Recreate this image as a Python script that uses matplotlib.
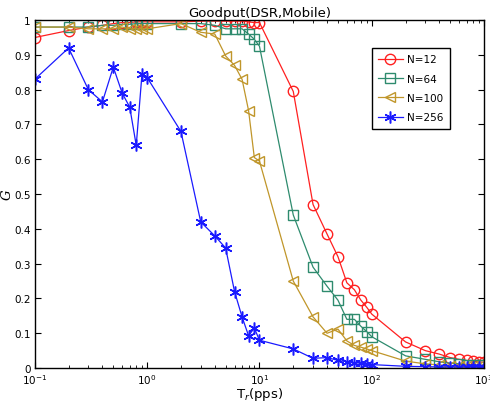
import numpy as np
import matplotlib.pyplot as plt

# taux d'envoi Tr (pps)
tr = [0.1, 0.2, 0.3, 0.4, 0.5, 0.6, 0.7, 0.8, 0.9, 1,
      2, 3, 4, 5, 6, 7, 8, 9, 10,
      20, 30, 40, 50, 60, 70, 80, 90, 100,
      200, 300, 400, 500, 600, 700, 800, 900, 1000]

g_n12 = [0.95, 0.97, 0.98, 0.985, 0.99, 0.993, 0.993, 0.995, 0.995, 0.995,
         0.995, 0.997, 0.997, 0.997, 0.997, 0.997, 0.995, 0.993, 0.993,
         0.795, 0.47, 0.385, 0.32, 0.245, 0.225, 0.195, 0.175, 0.155,
         0.075, 0.05, 0.04, 0.03, 0.025, 0.022, 0.02, 0.018, 0.016]

g_n64 = [0.98, 0.98, 0.98, 0.985, 0.985, 0.988, 0.988, 0.99, 0.99, 0.99,
         0.99, 0.99, 0.985, 0.975, 0.975, 0.975, 0.96, 0.945, 0.925,
         0.44, 0.29, 0.235, 0.195, 0.14, 0.14, 0.12, 0.105, 0.09,
         0.035, 0.025, 0.018, 0.014, 0.012, 0.01, 0.009, 0.008, 0.008]

g_n100 = [0.98, 0.98, 0.975, 0.975, 0.975, 0.98, 0.975, 0.975, 0.975, 0.975,
          0.99, 0.965, 0.96, 0.897, 0.87, 0.83, 0.74, 0.605, 0.595,
          0.25, 0.147, 0.1, 0.112, 0.078, 0.065, 0.06, 0.055, 0.05,
          0.02, 0.012, 0.009, 0.007, 0.006, 0.006, 0.005, 0.005, 0.005]

g_n256 = [0.83, 0.92, 0.80, 0.765, 0.865, 0.79, 0.75, 0.64, 0.845, 0.835,
          0.68, 0.42, 0.38, 0.345, 0.22, 0.147, 0.093, 0.115, 0.08,
          0.055, 0.028, 0.03, 0.022, 0.018, 0.015, 0.014, 0.013, 0.01,
          0.005, 0.004, 0.003, 0.003, 0.003, 0.003, 0.003, 0.003, 0.003]

fig = plt.figure(figsize=(4.9, 4.06), dpi=100)
ax = fig.add_axes([0.071, 0.091, 0.917, 0.857])

ms = 7.5
asterisk = (6, 2, 0)  # comme le '*' de matlab
ax.plot(tr, g_n12, '-o', color='#ff2020', mfc='none', ms=ms, lw=0.9, label='N=12')
ax.plot(tr, g_n64, '-s', color='#2e8b6e', mfc='none', ms=ms - 0.5, lw=0.9, label='N=64')
ax.plot(tr, g_n100, '-<', color='#c0962a', mfc='none', ms=ms, lw=0.9, label='N=100')
ax.plot(tr, g_n256, '-', marker=asterisk, color='#1a1aff', ms=ms + 1, mew=1.1, lw=0.9, label='N=256')

ax.set_xscale('log')
ax.set_xlim(0.1, 1000)
ax.set_ylim(0, 1)
ax.set_yticks(np.arange(0, 1.01, 0.1))
ax.set_yticklabels(['0', '0.1', '0.2', '0.3', '0.4', '0.5', '0.6', '0.7', '0.8', '0.9', '1'])
ax.tick_params(which='both', direction='in', top=True, right=True, labelsize=7.5)
ax.tick_params(which='major', length=4, pad=3)
ax.tick_params(which='minor', length=2)
for s in ax.spines.values():
    s.set_linewidth(1.0)

ax.set_title('Goodput(DSR,Mobile)', fontsize=9.5, pad=3)
ax.set_xlabel('T$_r$(pps)', fontsize=9.5, labelpad=-1)
ax.set_ylabel('G', fontsize=9.5, family='serif', style='italic')
ax.yaxis.set_label_coords(-0.047, 0.5)

leg = ax.legend(loc='upper right', bbox_to_anchor=(0.935, 0.935), fontsize=7.5,
                fancybox=False, edgecolor='black', framealpha=1,
                handlelength=2.4, handletextpad=0.4, borderpad=0.6, labelspacing=0.9)
leg.get_frame().set_linewidth(1.0)

fig.savefig('out.png', dpi=100)
